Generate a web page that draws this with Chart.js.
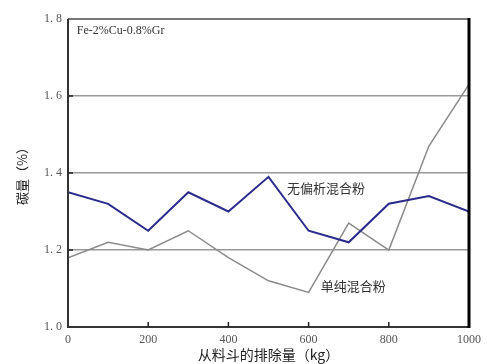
<!DOCTYPE html>
<html>
<head>
<meta charset="utf-8">
<script src="https://cdn.jsdelivr.net/npm/chart.js@4.4.0/dist/chart.umd.min.js"></script>
<style>
    html, body { margin: 0; padding: 0; background: #fff; }
    #wrap { width: 487px; height: 364px; }
</style>
</head>
<body>
<div id="wrap"><canvas id="carbonChart" width="487" height="364"></canvas></div>
<script>
// discharge amount from hopper (kg)
const dischargeKg = [0, 100, 200, 300, 400, 500, 600, 700, 800, 900, 1000];
// carbon content (%)
const segregationFree = [1.35, 1.32, 1.25, 1.35, 1.30, 1.39, 1.25, 1.22, 1.32, 1.34, 1.30];
const simpleMix = [1.18, 1.22, 1.20, 1.25, 1.18, 1.12, 1.09, 1.27, 1.20, 1.47, 1.63];
const yTickLabels = ['1. 0', '1. 2', '1. 4', '1. 6', '1. 8'];
const xTickLabels = ['0', '200', '400', '600', '800', '1000'];

const serif = '"Liberation Serif", "DejaVu Serif", serif';
const cjk = '"Noto Sans CJK SC", "Noto Sans", sans-serif';

// frame, inward ticks and in-plot labels
const framePlugin = {
    id: 'framePlugin',
    afterDatasetsDraw: (chart) => {
        const ctx = chart.ctx;
        const a = chart.chartArea;
        const xs = chart.scales.x;
        const ys = chart.scales.y;
        ctx.save();

        // top border (gray)
        ctx.strokeStyle = '#777';
        ctx.lineWidth = 2;
        ctx.beginPath();
        ctx.moveTo(a.left, a.top);
        ctx.lineTo(a.right, a.top);
        ctx.stroke();

        // left and bottom borders
        ctx.strokeStyle = '#333';
        ctx.lineWidth = 2;
        ctx.beginPath();
        ctx.moveTo(a.left, a.top);
        ctx.lineTo(a.left, a.bottom);
        ctx.lineTo(a.right, a.bottom);
        ctx.stroke();

        // right border (heavy black)
        ctx.strokeStyle = '#000';
        ctx.lineWidth = 3;
        ctx.beginPath();
        ctx.moveTo(a.right, a.top - 1);
        ctx.lineTo(a.right, a.bottom + 1);
        ctx.stroke();

        // inward ticks
        ctx.strokeStyle = '#222';
        ctx.lineWidth = 1.5;
        [200, 400, 600, 800].forEach((v) => {
            const x = xs.getPixelForValue(v);
            ctx.beginPath();
            ctx.moveTo(x, a.bottom);
            ctx.lineTo(x, a.bottom - 5);
            ctx.stroke();
        });
        [1.2, 1.4, 1.6].forEach((v) => {
            const y = ys.getPixelForValue(v);
            ctx.beginPath();
            ctx.moveTo(a.left, y);
            ctx.lineTo(a.left + 5, y);
            ctx.stroke();
        });

        // labels
        ctx.fillStyle = '#333';
        ctx.textBaseline = 'middle';
        ctx.textAlign = 'left';
        ctx.font = '12px ' + serif;
        ctx.fillText('Fe-2%Cu-0.8%Gr', xs.getPixelForValue(22), ys.getPixelForValue(1.77));
        ctx.font = '13px ' + cjk;
        ctx.fillText('无偏析混合粉', xs.getPixelForValue(546), ys.getPixelForValue(1.362));
        ctx.fillText('单纯混合粉', xs.getPixelForValue(630), ys.getPixelForValue(1.107));

        ctx.restore();
    }
};

var ctx = document.getElementById('carbonChart').getContext('2d');
var carbonChart = new Chart(ctx, {
    type: 'line',
    data: {
        datasets: [{
            label: '无偏析混合粉',
            data: dischargeKg.map((x, i) => ({ x: x, y: segregationFree[i] })),
            borderColor: '#2b2b8c',
            borderWidth: 2,
            pointRadius: 0,
            tension: 0,
            fill: false
        }, {
            label: '单纯混合粉',
            data: dischargeKg.map((x, i) => ({ x: x, y: simpleMix[i] })),
            borderColor: '#8a8a8a',
            borderWidth: 1.5,
            pointRadius: 0,
            tension: 0,
            fill: false
        }]
    },
    options: {
        responsive: false,
        animation: false,
        devicePixelRatio: 1,
        layout: {
            padding: { left: 0, right: 12, top: 19, bottom: 0 }
        },
        scales: {
            x: {
                type: 'linear',
                min: 0,
                max: 1000,
                afterBuildTicks: (scale) => {
                    scale.ticks = xTickLabels.map((t) => ({ value: Number(t) }));
                },
                afterFit: (scale) => { scale.height = 37; },
                grid: { display: false, drawTicks: false },
                border: { display: false },
                ticks: {
                    padding: 6,
                    maxRotation: 0,
                    color: '#555',
                    font: { family: serif, size: 12 },
                    callback: (value, index) => xTickLabels[index]
                },
                title: {
                    display: true,
                    text: '从料斗的排除量（kg）',
                    color: '#222',
                    padding: { top: 0, bottom: 1 },
                    font: { family: cjk, size: 14 }
                }
            },
            y: {
                min: 1.0,
                max: 1.8,
                afterBuildTicks: (scale) => {
                    scale.ticks = [1.0, 1.2, 1.4, 1.6, 1.8].map((v) => ({ value: v }));
                },
                afterFit: (scale) => { scale.width = 68; },
                grid: {
                    drawTicks: false,
                    lineWidth: 1.5,
                    color: (c) => {
                        const v = c.tick ? c.tick.value : 0;
                        return (v > 1.1 && v < 1.7) ? '#999' : 'rgba(0,0,0,0)';
                    }
                },
                border: { display: false },
                ticks: {
                    padding: 6,
                    color: '#555',
                    font: { family: serif, size: 12 },
                    callback: (value, index) => yTickLabels[index]
                },
                title: {
                    display: true,
                    text: '碳量（%）',
                    color: '#222',
                    padding: { top: 14, bottom: 0 },
                    font: { family: cjk, size: 13 }
                }
            }
        },
        plugins: {
            legend: { display: false },
            tooltip: { enabled: false }
        }
    },
    plugins: [framePlugin]
});
</script>
</body>
</html>
